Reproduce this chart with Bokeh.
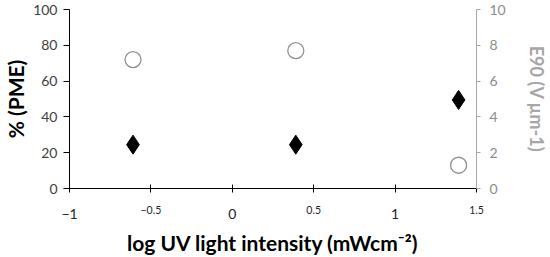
from bokeh.plotting import figure
from bokeh.models import Range1d, LinearAxis, FixedTicker
from bokeh.embed import file_html
from bokeh.resources import INLINE

# data
log_intensity = [-0.61, 0.39, 1.39]
pme_percent = [24.5, 24.5, 49.5]
e90_values = [7.2, 7.7, 1.3]

x_ticks_big = [-1, 0, 1]
x_ticks_small = [-0.5, 0.5, 1.5]
left_ticks = [0, 20, 40, 60, 80, 100]
right_ticks = [0, 2, 4, 6, 8, 10]

p = figure(width=550, height=257, output_backend="svg", toolbar_location=None,
           x_range=Range1d(-1, 1.5), y_range=Range1d(0, 100),
           min_border_left=69, min_border_right=71, min_border_top=9, min_border_bottom=66)
p.extra_y_ranges = {"e90": Range1d(0, 10)}
p.grid.visible = False
p.outline_line_color = None

font = "Lato"

# main x axis: ticks and the large labels
xa = p.xaxis[0]
xa.ticker = FixedTicker(ticks=x_ticks_big + x_ticks_small)
xa.major_label_overrides = {-0.5: "", 0.5: "", 1.5: ""}
xa.major_label_text_font = font
xa.major_label_text_font_size = "14px"
xa.major_label_text_color = "#262626"
xa.major_label_standoff = 16
xa.major_tick_in = 4
xa.major_tick_out = 4
xa.minor_tick_line_color = None

# second x axis: the small labels and the title
xb = LinearAxis(ticker=FixedTicker(ticks=x_ticks_small))
xb.axis_line_color = None
xb.major_tick_line_color = None
xb.minor_tick_line_color = None
xb.major_tick_in = 0
xb.major_tick_out = 0
xb.major_label_text_font = font
xb.major_label_text_font_size = "10.5px"
xb.major_label_text_color = "#262626"
xb.major_label_standoff = -16
xb.axis_label = "log UV light intensity (mWcm\u207b\u00b2)"
xb.axis_label_text_font = font
xb.axis_label_text_font_style = "bold"
xb.axis_label_text_font_size = "21px"
xb.axis_label_text_color = "#000000"
xb.axis_label_standoff = 13
p.add_layout(xb, "below")

ya = p.yaxis[0]
ya.ticker = FixedTicker(ticks=left_ticks)
ya.major_label_text_font = font
ya.major_label_text_font_size = "14px"
ya.major_label_text_color = "#404040"
ya.major_label_standoff = 6
ya.major_tick_in = 0
ya.major_tick_out = 6
ya.minor_tick_line_color = None
ya.axis_label = "% (PME)"
ya.axis_label_text_font = font
ya.axis_label_text_font_style = "bold"
ya.axis_label_text_font_size = "21px"
ya.axis_label_text_color = "#000000"
ya.axis_label_standoff = 2

ra = LinearAxis(y_range_name="e90", ticker=FixedTicker(ticks=right_ticks))
ra.major_label_text_font = font
ra.major_label_text_font_size = "14px"
ra.major_label_text_color = "#8c8c8c"
ra.major_label_standoff = 9
ra.axis_line_color = "#a6a6a6"
ra.major_tick_line_color = "#a6a6a6"
ra.major_tick_in = 0
ra.major_tick_out = 4
ra.minor_tick_line_color = None
ra.axis_label = "E90 (V \u00b5m-1)"
ra.axis_label_text_font = font
ra.axis_label_text_font_style = "bold"
ra.axis_label_text_font_size = "18px"
ra.axis_label_text_color = "#a6a6a6"
ra.axis_label_standoff = 17
p.add_layout(ra, "right")

p.scatter(log_intensity, pme_percent, marker="diamond", size=19,
          fill_color="black", line_color="black")
p.scatter(log_intensity, e90_values, y_range_name="e90", marker="circle", size=16,
          fill_color="white", line_color="#909090", line_width=1.3)

open("out.html", "w").write(file_html(p, INLINE))
